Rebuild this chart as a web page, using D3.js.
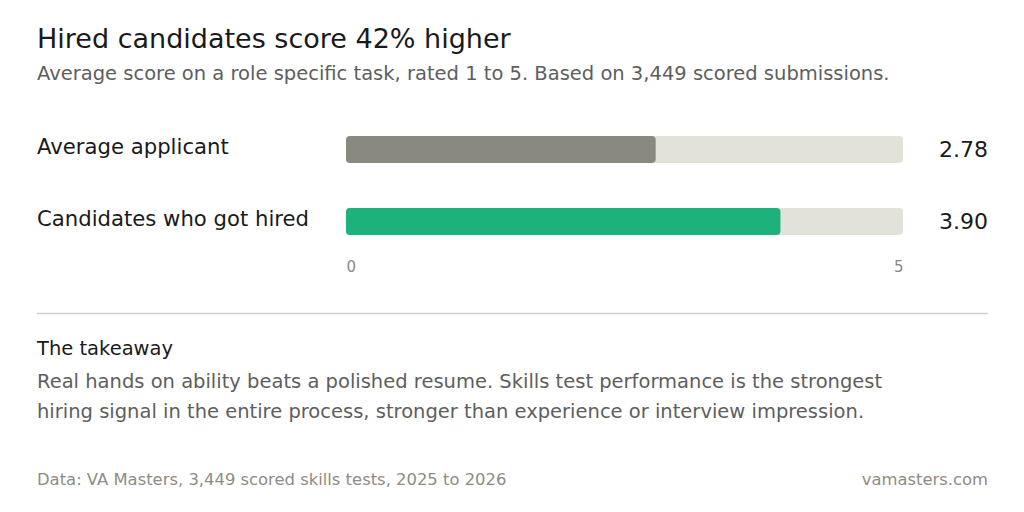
<!DOCTYPE html>
<html><head><meta charset="utf-8">
<script src="https://cdn.jsdelivr.net/npm/d3@7"></script>
<style>body{margin:0;background:#fff;}svg{display:block;font-family:"DejaVu Sans",sans-serif;}</style>
</head><body><svg id="c" width="1024" height="512"></svg>
<script>
const categories = ["Average applicant", "Candidates who got hired"];
const values = [2.78, 3.90];
const valueLabels = ["2.78", "3.90"];
const barColors = ["#8a8981", "#1db27b"];
const domainMax = 5;
const tickValues = [0, 5];

const svg = d3.select("#c");
svg.append("rect").attr("width",1024).attr("height",512).attr("fill","#fff");

svg.append("text").attr("x",37).attr("y",48).attr("font-size",27).attr("fill","#1a1a1a")
  .text("Hired candidates score 42% higher");
svg.append("text").attr("x",37).attr("y",80).attr("font-size",19.5).attr("fill","#5e5e5e")
  .text("Average score on a role specific task, rated 1 to 5. Based on 3,449 scored submissions.");

const x = d3.scaleLinear().domain([0, domainMax]).range([346, 903]);
const y = d3.scaleBand().domain(categories).range([136, 235]).paddingInner(0.625).paddingOuter(0);

const g = svg.append("g");
const rows = g.selectAll("g.row").data(categories).join("g").attr("class","row");
rows.append("rect").attr("x", x(0)).attr("y", d => y(d)).attr("width", x(domainMax)-x(0))
  .attr("height", y.bandwidth()).attr("rx",4).attr("fill","#e2e1da");
rows.append("rect").attr("x", x(0)).attr("y", d => y(d)).attr("width", (d,i) => x(values[i])-x(0))
  .attr("height", y.bandwidth()).attr("rx",4).attr("fill",(d,i)=>barColors[i]);
rows.append("text").attr("x",37).attr("y", d => y(d)+y.bandwidth()/2-3).attr("dy","0.35em")
  .attr("font-size",21.2).attr("fill","#1a1a1a").text(d=>d);
rows.append("text").attr("x",988).attr("y", d => y(d)+y.bandwidth()/2).attr("dy","0.35em")
  .attr("text-anchor","end").attr("font-size",22).attr("fill","#1a1a1a").text((d,i)=>valueLabels[i]);

const axis = d3.axisBottom(x).tickValues(tickValues).tickSize(0).tickFormat(d3.format("d"));
const ax = svg.append("g").attr("transform","translate(0,258)").call(axis);
ax.select(".domain").remove();
ax.selectAll("text").attr("font-size",15).attr("fill","#8a8a82").attr("font-family","DejaVu Sans")
  .attr("text-anchor",(d)=> d===0 ? "start" : "end").attr("dy","0.71em");

svg.append("line").attr("x1",37).attr("x2",988).attr("y1",313.5).attr("y2",313.5)
  .attr("stroke","#cfcfca").attr("stroke-width",1.5);

svg.append("text").attr("x",37).attr("y",355).attr("font-size",19.5).attr("fill","#1a1a1a").text("The takeaway");
svg.append("text").attr("x",37).attr("y",388).attr("font-size",19.5).attr("fill","#5e5e5e")
  .text("Real hands on ability beats a polished resume. Skills test performance is the strongest");
svg.append("text").attr("x",37).attr("y",418).attr("font-size",19.5).attr("fill","#5e5e5e")
  .text("hiring signal in the entire process, stronger than experience or interview impression.");

svg.append("text").attr("x",37).attr("y",485).attr("font-size",16.4).attr("fill","#8e8c84")
  .text("Data: VA Masters, 3,449 scored skills tests, 2025 to 2026");
svg.append("text").attr("x",988).attr("y",485).attr("text-anchor","end").attr("font-size",16.4).attr("fill","#8e8c84")
  .text("vamasters.com");
</script></body></html>
